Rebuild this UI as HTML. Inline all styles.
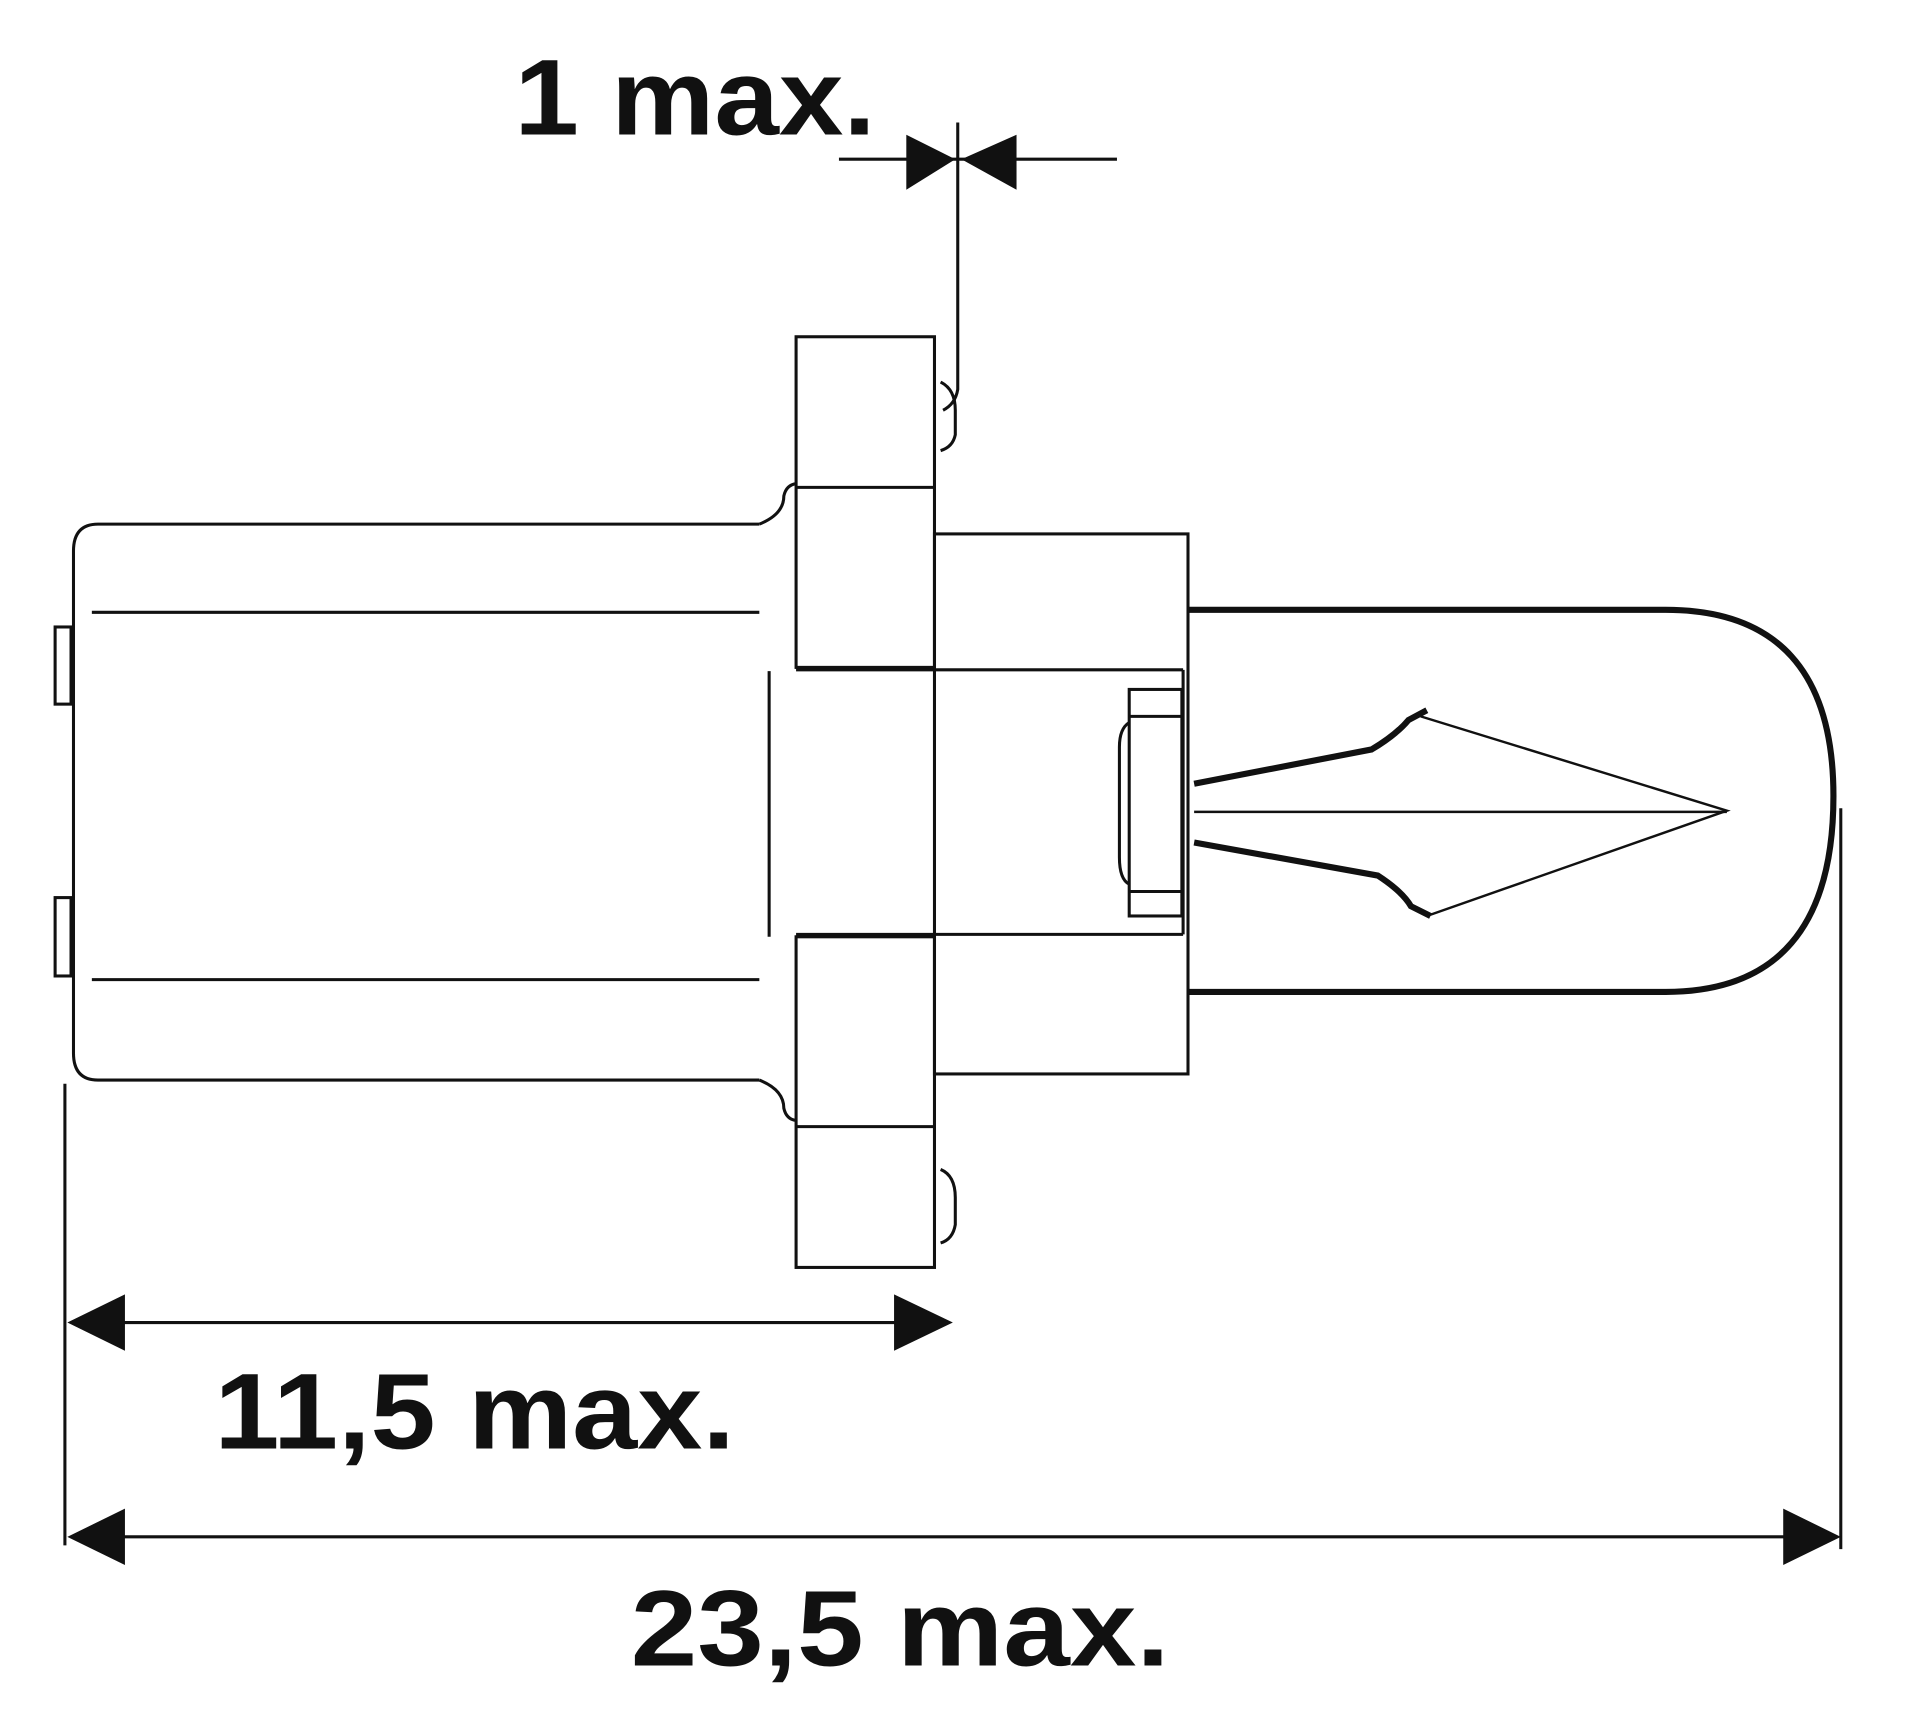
<!DOCTYPE html>
<html><head><meta charset="utf-8"><style>
html,body{margin:0;padding:0;background:#fff;}
svg{display:block;}
text{font-family:"Liberation Sans",sans-serif;font-weight:bold;fill:#111;}
</style></head><body>
<svg width="1920" height="1728" viewBox="0 0 1552 1397" preserveAspectRatio="none" xmlns="http://www.w3.org/2000/svg">
<rect width="1552" height="1397" fill="#fff"/>
<g transform="scale(0.99)">
<g stroke="#111" fill="none" stroke-width="2.5">
<line x1="685" y1="130" x2="912" y2="130"/>
<path d="M782 100 L782 318 Q780 330 770 335"/>
<rect x="650" y="275" width="113" height="270"/>
<line x1="650" y1="398" x2="763" y2="398"/>
<rect x="650" y="765" width="113" height="270"/>
<line x1="650" y1="920" x2="763" y2="920"/>
<path d="M768 312 Q780 318 780 335 L780 355 Q778 365 768 368"/>
<path d="M768 955 Q780 960 780 978 L780 1000 Q778 1012 768 1015"/>
<path d="M620 428 L80 428 Q60 428 60 450 L60 860 Q60 882 80 882 L620 882"/>
<path d="M620 428 Q640 420 640 405 Q642 396 650 395"/>
<path d="M620 882 Q640 890 640 905 Q642 914 650 915"/>
<line x1="75" y1="500" x2="620" y2="500"/>
<line x1="75" y1="800" x2="620" y2="800"/>
<rect x="45" y="512" width="13" height="63"/>
<rect x="45" y="733" width="13" height="64"/>
<line x1="628" y1="548" x2="628" y2="765"/>
<rect x="763" y="436" width="207" height="441"/>
<line x1="650" y1="547" x2="966" y2="547"/>
<line x1="650" y1="763" x2="966" y2="763"/>
<rect x="922" y="563" width="43" height="185"/>
<line x1="922" y1="585" x2="965" y2="585"/>
<line x1="922" y1="728" x2="965" y2="728"/>
<path d="M922 590 Q914 595 914 610 L914 700 Q914 718 922 722"/>
<line x1="966" y1="547" x2="966" y2="763"/>
<line x1="1503" y1="660" x2="1503" y2="1265"/>
<line x1="53" y1="885" x2="53" y2="1262"/>
<line x1="60" y1="1080" x2="770" y2="1080"/>
<line x1="60" y1="1255" x2="1498" y2="1255"/>
<path d="M1160 585 L1410 662 L1165 748" stroke-width="2"/>
<line x1="975" y1="663" x2="1410" y2="663" stroke-width="2"/>
</g>
<g stroke="#111" fill="none" stroke-width="5">
<path d="M970 498 L1360 498 Q1497 498 1497 650 Q1497 810 1360 810 L970 810"/>
<path d="M975 640 L1120 612 Q1140 600 1150 588 L1165 580"/>
<path d="M975 688 L1125 715 Q1145 728 1152 740 L1168 748"/>
</g>
<g fill="#111">
<polygon points="740,110 780,130 740,155"/>
<polygon points="830,110 785,130 830,155"/>
<polygon points="55,1080 102,1057 102,1103"/>
<polygon points="778,1080 730,1057 730,1103"/>
<polygon points="55,1255 102,1232 102,1278"/>
<polygon points="1503,1255 1456,1232 1456,1278"/>
</g>
<text x="420" y="110" font-size="88" textLength="295" lengthAdjust="spacingAndGlyphs">1 max.</text>
<text x="175" y="1183" font-size="88" textLength="425" lengthAdjust="spacingAndGlyphs">11,5 max.</text>
<text x="515" y="1360" font-size="88" textLength="440" lengthAdjust="spacingAndGlyphs">23,5 max.</text>
</g>
</svg>
</body></html>
